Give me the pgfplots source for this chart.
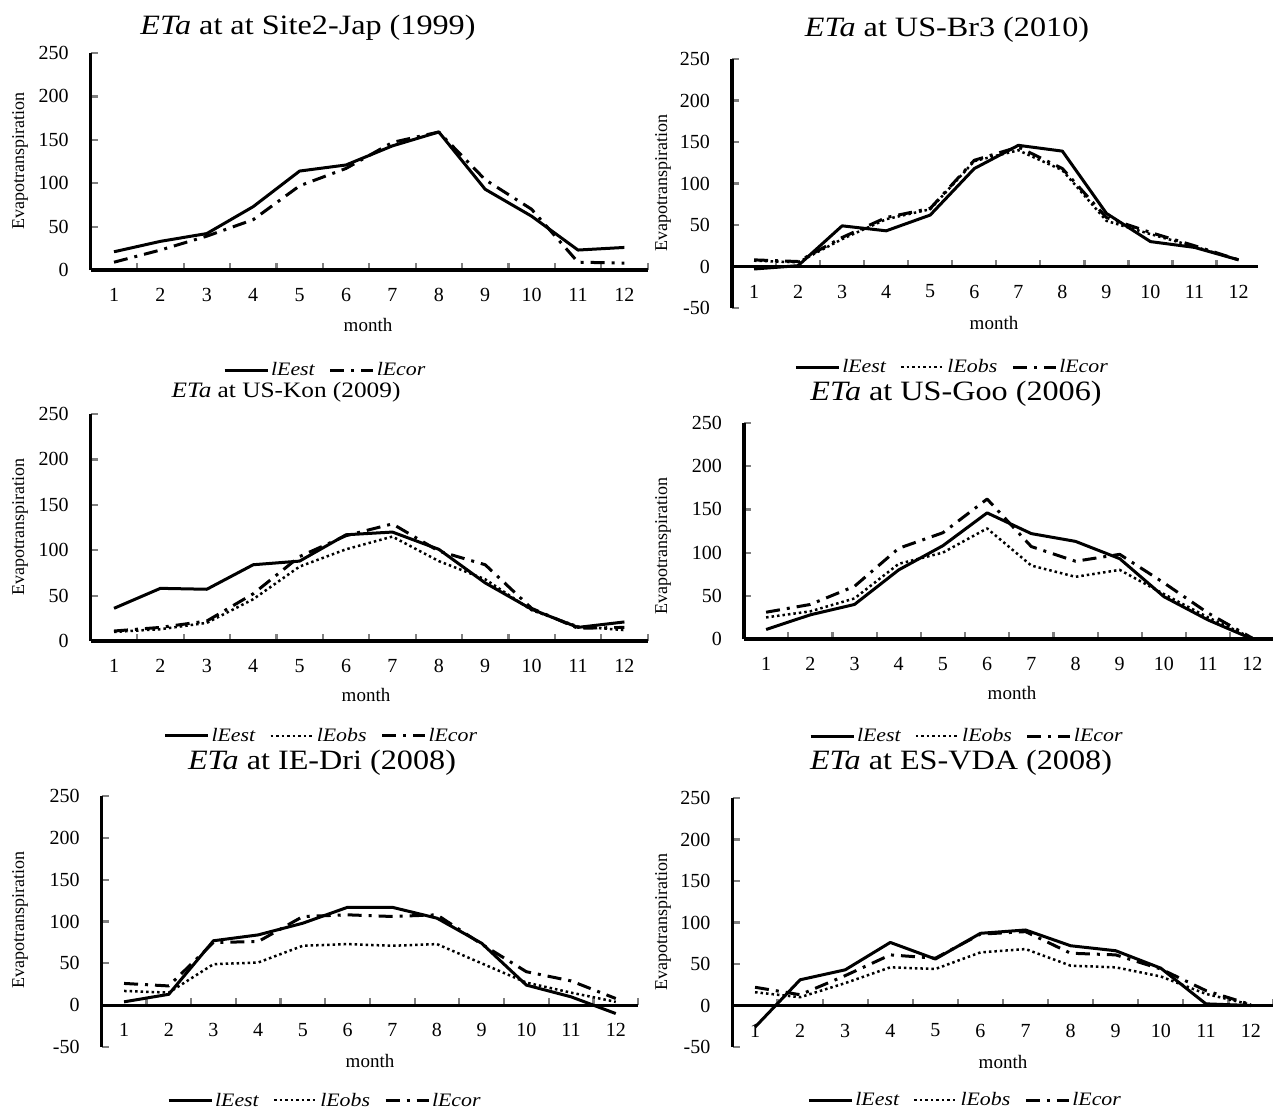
\documentclass[border=0pt]{standalone}
\usepackage{fontspec}
\setmainfont{Liberation Serif}
\newfontfamily\stretchfont[FakeStretch=1.15]{Liberation Serif}
\usepackage{pgfplots}
\pgfplotsset{compat=1.18}
\pgfplotsset{
  myax/.style={
    scale only axis, clip=false,
    axis x line=middle, axis y line=left,
    axis line style={-, line width=3.2pt},
    xmin=0.5,
    xtick={1,...,12}, xticklabels={1,2,3,4,5,6,7,8,9,10,11,12},
    major x tick style={draw=none},
    minor xtick={0.5,1.5,...,12.5},
    minor x tick style={line width=2.2pt},
    minor tick length=7pt, major tick length=7pt,
    xtick align=inside, ytick align=inside,
    y tick style={line width=2.2pt},
    hide obscured x ticks=false, hide obscured y ticks=false,
    ticklabel style={font=\fontsize{20}{24}\selectfont},
    yticklabel style={anchor=east, inner sep=0pt, xshift=-22pt},
    xticklabel style={anchor=center, inner sep=0pt, yshift=-25pt},
    legend style={draw=none, fill=none, legend columns=-1,
      font=\stretchfont\fontsize{19}{22}\selectfont\itshape, anchor=center,
      /tikz/every even column/.append style={column sep=12pt}},
    legend image code/.code={\draw[##1] (0pt,0pt) -- (43pt,0pt);},
  },
  pos/.style={ymin=0, ymax=250, ytick={0,50,...,250}, yticklabels={0,50,100,150,200,250}},
  neg/.style={ymin=-50, ymax=250, ytick={-50,0,...,250}, yticklabels={-50,0,50,100,150,200,250}},
  est/.style={line width=3pt, solid, line join=round},
  obs/.style={line width=2.5pt, dash pattern=on 2.5pt off 3pt, line join=round},
  cor/.style={line width=3pt, dash pattern=on 14pt off 7pt on 3pt off 7pt, line join=round},
}
\newcommand{\tfont}{\stretchfont\fontsize{28}{32}\selectfont}
\newcommand{\lfont}{\fontsize{18}{20}\selectfont}
\begin{document}
\begin{tikzpicture}
\useasboundingbox (0pt,0pt) rectangle (1273pt,-1112pt);

% Panel 1
\begin{axis}[myax, pos, at={(90.8pt,-53pt)}, anchor=north west,
  xmax=12.5, width=556.8pt, height=217pt,
  legend style={at={(0.421,-0.461)}}]
\addplot[est] coordinates {(1,21)(2,33)(3,42)(4,73)(5,114)(6,121)(7,143)(8,159)(9,93)(10,62)(11,23)(12,26)};
\addlegendentry{lEest}
\addplot[cor] coordinates {(1,9)(2,23)(3,39)(4,58)(5,97)(6,117)(7,147)(8,159)(9,104)(10,70)(11,9)(12,8)};
\addlegendentry{lEcor}
\end{axis}

% Panel 2
\begin{axis}[myax, neg, at={(732pt,-59pt)}, anchor=north west,
  xmax=12.45, width=526.4pt, height=249pt,
  legend style={at={(0.418,-0.237)}}]
\addplot[est] coordinates {(1,-3)(2,1)(3,49)(4,43)(5,62)(6,118)(7,146)(8,139)(9,64)(10,30)(11,23)(12,8)};
\addlegendentry{lEest}
\addplot[obs] coordinates {(1,7)(2,5)(3,33)(4,57)(5,69)(6,127)(7,140)(8,116)(9,55)(10,39)(11,24)(12,8)};
\addlegendentry{lEobs}
\addplot[cor] coordinates {(1,8)(2,6)(3,35)(4,59)(5,70)(6,128)(7,144)(8,118)(9,59)(10,41)(11,25)(12,8)};
\addlegendentry{lEcor}
\end{axis}

% Panel 3
\begin{axis}[myax, pos, at={(90.8pt,-414pt)}, anchor=north west,
  xmax=12.5, width=556.8pt, height=227pt,
  legend style={at={(0.414,-0.418)}}]
\addplot[est] coordinates {(1,36)(2,58)(3,57)(4,84)(5,88)(6,117)(7,120)(8,101)(9,64)(10,35)(11,15)(12,21)};
\addlegendentry{lEest}
\addplot[obs] coordinates {(1,10)(2,13)(3,20)(4,46)(5,82)(6,101)(7,115)(8,88)(9,68)(10,34)(11,16)(12,12)};
\addlegendentry{lEobs}
\addplot[cor] coordinates {(1,11)(2,15)(3,22)(4,52)(5,93)(6,116)(7,129)(8,99)(9,84)(10,36)(11,14)(12,15)};
\addlegendentry{lEcor}
\end{axis}

% Panel 4
\begin{axis}[myax, pos, at={(744pt,-423pt)}, anchor=north west,
  xmax=12.5, width=530.4pt, height=216pt,
  legend style={at={(0.420,-0.449)}}]
\addplot[est] coordinates {(1,11)(2,28)(3,40)(4,80)(5,108)(6,146)(7,122)(8,113)(9,93)(10,49)(11,22)(12,0)};
\addlegendentry{lEest}
\addplot[obs] coordinates {(1,25)(2,32)(3,47)(4,87)(5,100)(6,128)(7,85)(8,72)(9,80)(10,52)(11,25)(12,1)};
\addlegendentry{lEobs}
\addplot[cor] coordinates {(1,31)(2,40)(3,61)(4,105)(5,123)(6,162)(7,107)(8,90)(9,98)(10,65)(11,30)(12,1)};
\addlegendentry{lEcor}
\end{axis}

% Panel 5
\begin{axis}[myax, neg, at={(101.7pt,-796pt)}, anchor=north west,
  xmax=12.5, width=536.4pt, height=251pt,
  legend style={at={(0.416,-0.212)}}]
\addplot[est] coordinates {(1,4)(2,13)(3,77)(4,84)(5,98)(6,117)(7,117)(8,104)(9,74)(10,24)(11,10)(12,-10)};
\addlegendentry{lEest}
\addplot[obs] coordinates {(1,17)(2,15)(3,49)(4,51)(5,71)(6,73)(7,71)(8,73)(9,50)(10,27)(11,15)(12,4)};
\addlegendentry{lEobs}
\addplot[cor] coordinates {(1,26)(2,23)(3,75)(4,76)(5,106)(6,108)(7,106)(8,108)(9,73)(10,40)(11,29)(12,8)};
\addlegendentry{lEcor}
\end{axis}

% Panel 6
\begin{axis}[myax, neg, at={(732.5pt,-798pt)}, anchor=north west,
  xmax=12.5, width=541pt, height=249pt,
  legend style={at={(0.430,-0.213)}}]
\addplot[est] coordinates {(1,-26)(2,31)(3,43)(4,76)(5,56)(6,87)(7,91)(8,72)(9,66)(10,45)(11,2)(12,0)};
\addlegendentry{lEest}
\addplot[obs] coordinates {(1,16)(2,10)(3,27)(4,46)(5,44)(6,64)(7,68)(8,48)(9,46)(10,35)(11,14)(12,1)};
\addlegendentry{lEobs}
\addplot[cor] coordinates {(1,22)(2,13)(3,36)(4,61)(5,57)(6,86)(7,89)(8,63)(9,61)(10,44)(11,18)(12,1)};
\addlegendentry{lEcor}
\end{axis}

% titles
\node[font=\tfont] at (308pt,-28pt) {\textit{ETa} at at Site2-Jap (1999)};
\node[font=\tfont] at (947pt,-30pt) {\textit{ETa} at US-Br3 (2010)};
\node[font=\stretchfont\fontsize{22}{26}\selectfont] at (286pt,-392pt) {\textit{ETa} at US-Kon (2009)};
\node[font=\tfont] at (956pt,-394pt) {\textit{ETa} at US-Goo (2006)};
\node[font=\tfont] at (322pt,-763pt) {\textit{ETa} at IE-Dri (2008)};
\node[font=\tfont] at (961pt,-763pt) {\textit{ETa} at ES-VDA (2008)};
% y labels
\foreach \x/\y in {20/161, 663/183, 20/527, 663/546, 20/920, 663/922}
  \node[font=\lfont, rotate=90] at (\x pt,-\y pt) {Evapotranspiration};
% x labels
\foreach \x/\y in {368/325, 994/323, 366/695, 1012/693, 370/1061, 1003/1062}
  \node[font=\fontsize{19}{22}\selectfont] at (\x pt,-\y pt) {month};
\end{tikzpicture}
\end{document}
